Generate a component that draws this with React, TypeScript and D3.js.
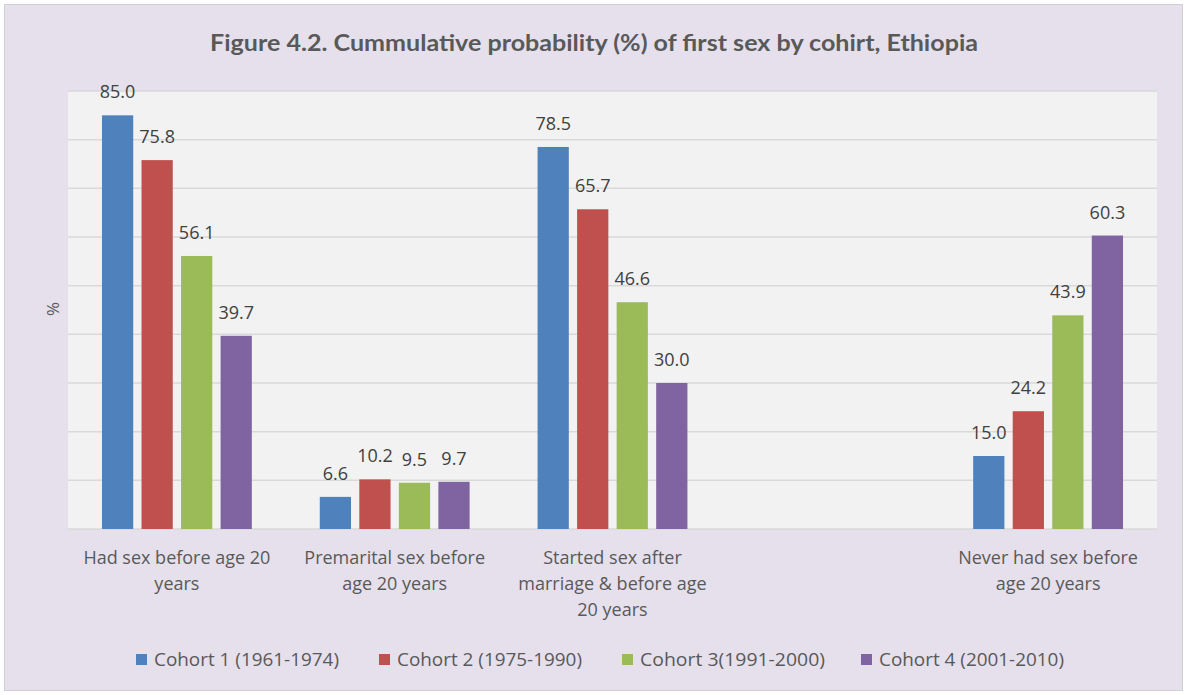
import React, { useEffect, useRef } from 'react';
import * as d3 from 'd3';

const categories = ['had', 'premarital', 'marriage', 'blank', 'never'];
const categoryLines = [
  ['Had sex before age 20', 'years'],
  ['Premarital sex before', 'age 20 years'],
  ['Started sex after', 'marriage & before age', '20 years'],
  [],
  ['Never had sex before', 'age 20 years'],
];
const cohorts = ['Cohort 1 (1961-1974)', 'Cohort 2 (1975-1990)', 'Cohort 3(1991-2000)', 'Cohort 4 (2001-2010)'];
const cohort1 = [85.0, 6.6, 78.5, null, 15.0];
const cohort2 = [75.8, 10.2, 65.7, null, 24.2];
const cohort3 = [56.1, 9.5, 46.6, null, 43.9];
const cohort4 = [39.7, 9.7, 30.0, null, 60.3];
const series = [cohort1, cohort2, cohort3, cohort4];
const colors = ['#4F81BD', '#C0504D', '#9BBB59', '#8064A2'];
const yTicks = d3.range(0, 91, 10);

const W = 1187;
const H = 695;
const FONT = '"Open Sans", Lato, sans-serif';

export default function App() {
  const svgRef = useRef<SVGSVGElement>(null);

  useEffect(() => {
    document.body.style.margin = '0';
    const svg = d3.select(svgRef.current);
    svg.selectAll('*').remove();

    const margin = { top: 91, right: 30, bottom: 166, left: 68 };
    const innerW = W - margin.left - margin.right;
    const innerH = H - margin.top - margin.bottom;

    // chart background + border
    svg.append('rect')
      .attr('x', 4.5).attr('y', 4.5)
      .attr('width', W - 9).attr('height', H - 9)
      .attr('fill', '#E5E0EC')
      .attr('stroke', '#D0D0D0');

    svg.append('text')
      .attr('x', 210).attr('y', 51)
      .attr('font-family', 'Lato, sans-serif')
      .attr('font-weight', 'bold')
      .attr('font-size', 22)
      .attr('fill', '#595959')
      .attr('textLength', 768)
      .attr('lengthAdjust', 'spacingAndGlyphs')
      .text('Figure 4.2. Cummulative probability (%) of first sex by cohirt, Ethiopia');

    const g = svg.append('g').attr('transform', `translate(${margin.left},${margin.top})`);

    const x = d3.scaleBand().domain(categories).range([0, innerW]).paddingInner(0).paddingOuter(0);
    const y = d3.scaleLinear().domain([0, 90]).range([innerH, 0]);

    const catW = x.bandwidth();
    const groupPad = catW * 0.156;
    const xs = d3.scaleBand()
      .domain(d3.range(series.length).map(String))
      .range([groupPad, catW - groupPad])
      .paddingInner(0.21)
      .paddingOuter(0);

    g.append('rect')
      .attr('width', innerW).attr('height', innerH)
      .attr('fill', '#F2F2F2');

    g.append('g')
      .selectAll('line')
      .data(yTicks).enter().append('line')
      .attr('x1', 0).attr('x2', innerW)
      .attr('y1', d => y(d)).attr('y2', d => y(d))
      .attr('stroke', '#D9D9D9')
      .attr('stroke-width', 1.5);

    series.forEach((vals, si) => {
      const items = categories.map((c, i) => ({ c, v: vals[i] })).filter(d => d.v !== null) as { c: string; v: number }[];
      g.append('g')
        .selectAll('rect')
        .data(items).enter().append('rect')
        .attr('x', d => (x(d.c) as number) + (xs(String(si)) as number))
        .attr('y', d => y(d.v))
        .attr('width', xs.bandwidth())
        .attr('height', d => innerH - y(d.v))
        .attr('fill', colors[si]);

      g.append('g')
        .selectAll('text')
        .data(items).enter().append('text')
        .attr('x', d => (x(d.c) as number) + (xs(String(si)) as number) + xs.bandwidth() / 2)
        .attr('y', d => y(d.v) - 17)
        .attr('text-anchor', 'middle')
        .attr('font-family', FONT)
        .attr('font-size', 18)
        .attr('fill', '#404040')
        .text(d => d.v.toFixed(1));
    });

    // category labels
    const lab = g.append('g');
    categories.forEach((c, i) => {
      const t = lab.append('text')
        .attr('x', (x(c) as number) + catW / 2)
        .attr('y', innerH + 35)
        .attr('text-anchor', 'middle')
        .attr('font-family', FONT)
        .attr('font-size', 18)
        .attr('fill', '#595959');
      categoryLines[i].forEach((line, li) => {
        t.append('tspan')
          .attr('x', (x(c) as number) + catW / 2)
          .attr('dy', li === 0 ? 0 : 26)
          .text(line);
      });
    });

    // y axis title
    svg.append('text')
      .attr('transform', 'translate(59,309) rotate(-90)')
      .attr('text-anchor', 'middle')
      .attr('font-family', FONT)
      .attr('font-size', 17)
      .attr('fill', '#595959')
      .text('%');

    // legend
    const legendX = [136, 379, 622, 861];
    const leg = svg.append('g');
    cohorts.forEach((name, i) => {
      leg.append('rect')
        .attr('x', legendX[i]).attr('y', 654)
        .attr('width', 11).attr('height', 11)
        .attr('fill', colors[i]);
      leg.append('text')
        .attr('x', legendX[i] + 18).attr('y', 666)
        .attr('font-family', FONT)
        .attr('font-size', 18)
        .attr('fill', '#595959')
        .attr('textLength', 185)
        .attr('lengthAdjust', 'spacingAndGlyphs')
        .text(name);
    });
  }, []);

  return <svg ref={svgRef} width={W} height={H} style={{ display: 'block' }} />;
}
